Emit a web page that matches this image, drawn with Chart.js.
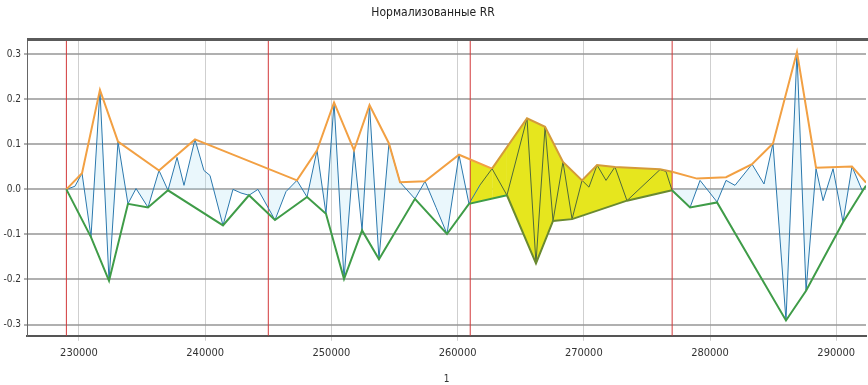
<!DOCTYPE html>
<html>
<head>
<meta charset="utf-8">
<script src="https://cdn.jsdelivr.net/npm/chart.js@4"></script>
<style>
  html, body { margin: 0; padding: 0; background: #fff; }
  #wrap { width: 868px; height: 385px; }
</style>
</head>
<body>
<div id="wrap"><canvas id="rrChart" width="868" height="385"></canvas></div>
<script>
// signal (blue)
const signalX = [229000, 229680, 230240, 230950, 231660, 232380, 233090, 233880, 234520, 235470,
  236340, 237050, 237770, 238320, 239190, 239900, 240380, 241410, 242200, 242840,
  243470, 244180, 245530, 246400, 247270, 248070, 248860, 249570, 250210, 251000,
  251790, 252430, 253020, 253770, 254560, 255440, 256620, 257420, 258290, 259160,
  260110, 260900, 261780, 262730, 263910, 265500, 266210, 266930, 267560, 268350,
  269070, 269860, 270410, 271050, 271760, 272470, 273420, 276040, 276510, 276990,
  278420, 279210, 280560, 281270, 281980, 283330, 284280, 284990, 286020, 286890,
  287610, 288400, 288960, 289750, 290540, 291250, 292050, 292520];
const signalY = [0.000, 0.007, 0.036, -0.106, 0.221, -0.203, 0.106, -0.032, 0.002, -0.040,
  0.042, -0.002, 0.071, 0.009, 0.111, 0.042, 0.031, -0.080, 0.000, -0.008,
  -0.013, 0.000, -0.068, -0.005, 0.020, -0.017, 0.087, -0.054, 0.193, -0.199,
  0.087, -0.091, 0.187, -0.155, 0.102, 0.016, -0.021, 0.018, -0.040, -0.099,
  0.077, -0.032, 0.010, 0.046, -0.013, 0.158, -0.164, 0.139, -0.070, 0.061,
  -0.066, 0.020, 0.005, 0.054, 0.020, 0.050, -0.025, 0.044, 0.040, -0.002,
  -0.040, 0.020, -0.028, 0.020, 0.009, 0.056, 0.012, 0.102, -0.291, 0.305,
  -0.225, 0.046, -0.025, 0.046, -0.073, 0.051, -0.002, 0.013];

// upper envelope (orange)
const upperX = [229000, 230240, 231660, 233090, 236340, 239190, 247270, 248860, 250210, 251790,
  253020, 254560, 255440, 257420, 260110, 262730, 265500, 266930, 268350, 269860,
  271050, 272470, 276040, 276990, 278970, 281270, 283330, 284990, 286890, 288400,
  291250, 292360];
const upperY = [0.000, 0.036, 0.221, 0.106, 0.042, 0.111, 0.020, 0.087, 0.193, 0.087,
  0.187, 0.102, 0.016, 0.018, 0.077, 0.046, 0.158, 0.139, 0.061, 0.020,
  0.054, 0.050, 0.045, 0.039, 0.024, 0.027, 0.056, 0.102, 0.305, 0.048,
  0.051, 0.015];

// lower envelope (green)
const lowerX = [229000, 230950, 232380, 233880, 235470, 237050, 241410, 243470, 245530, 248070,
  249570, 251000, 252430, 253770, 256620, 259160, 260900, 263910, 266210, 267560,
  269070, 273420, 276990, 278420, 280560, 286020, 287610, 290540, 292120, 292360];
const lowerY = [0.000, -0.106, -0.203, -0.032, -0.040, -0.002, -0.080, -0.013, -0.068, -0.017,
  -0.054, -0.199, -0.091, -0.155, -0.021, -0.099, -0.032, -0.013, -0.164, -0.070,
  -0.066, -0.025, -0.002, -0.040, -0.029, -0.291, -0.225, -0.073, -0.002, 0.008];

// red segment borders and highlighted segment
const segmentBorders = [229000, 245000, 261000, 277000];
const shadeFrom = 261000;
const shadeTo = 277000;

const xTicks = [230000, 240000, 250000, 260000, 270000, 280000, 290000];
const yTicks = [-0.3, -0.2, -0.1, 0.0, 0.1, 0.2, 0.3];
const xMin = 225880, xMax = 292360;
const yMin = -0.325, yMax = 0.333;

const narrow = "'Liberation Sans Narrow', 'DejaVu Sans Condensed', sans-serif";
const tickFont = { family: narrow, size: 11 };

function toPoints(xs, ys) {
  return xs.map((x, i) => ({ x: x, y: ys[i] }));
}

function inShade(seg) {
  return seg.p0.parsed.x >= shadeFrom - 1 && seg.p1.parsed.x <= shadeTo + 1;
}

// yellow only between shadeFrom and shadeTo
function shadeGradient(context) {
  const chart = context.chart;
  const area = chart.chartArea;
  if (!area) return 'rgba(0,0,0,0)';
  const sx = chart.scales.x;
  const w = area.right - area.left;
  const a = Math.min(Math.max((sx.getPixelForValue(shadeFrom) - area.left) / w, 0), 1);
  const b = Math.min(Math.max((sx.getPixelForValue(shadeTo) - area.left) / w, 0), 1);
  const g = chart.ctx.createLinearGradient(area.left, 0, area.right, 0);
  const none = 'rgba(230,230,30,0)';
  const yel = 'rgba(230,230,30,1)';
  g.addColorStop(0, none);
  g.addColorStop(a, none);
  g.addColorStop(a, yel);
  g.addColorStop(b, yel);
  g.addColorStop(b, none);
  g.addColorStop(1, none);
  return g;
}

const datasets = [
  {
    label: 'signal',
    data: toPoints(signalX, signalY),
    borderColor: '#2b78ad',
    borderWidth: 1,
    backgroundColor: 'rgba(170,222,242,0.25)',
    fill: 'origin',
    pointRadius: 0,
    tension: 0,
    segment: { borderColor: s => inShade(s) ? '#4f6a3a' : undefined },
    order: 3
  },
  {
    label: 'upper',
    data: toPoints(upperX, upperY),
    borderColor: '#f2a043',
    borderWidth: 2,
    backgroundColor: shadeGradient,
    fill: { target: 2 },
    pointRadius: 0,
    tension: 0,
    segment: { borderColor: s => inShade(s) ? '#d49a3a' : undefined },
    order: 2
  },
  {
    label: 'lower',
    data: toPoints(lowerX, lowerY),
    borderColor: '#3f9c48',
    borderWidth: 2,
    fill: false,
    pointRadius: 0,
    tension: 0,
    segment: { borderColor: s => inShade(s) ? '#6a8a30' : undefined },
    order: 1
  }
];

segmentBorders.forEach(v => {
  datasets.push({
    label: 'border',
    data: [{ x: v, y: yMin }, { x: v, y: yMax }],
    borderColor: '#d2383a',
    borderWidth: 1,
    fill: false,
    pointRadius: 0,
    order: 10
  });
});

// dark frame line along the top of the plot
const topFrame = {
  id: 'topFrame',
  afterDraw(chart) {
    const { ctx, chartArea } = chart;
    ctx.save();
    ctx.strokeStyle = '#5a5a5a';
    ctx.lineWidth = 3;
    ctx.beginPath();
    ctx.moveTo(chartArea.left, chartArea.top);
    ctx.lineTo(chartArea.right + 2, chartArea.top);
    ctx.stroke();
    ctx.restore();
  }
};

const ctx = document.getElementById('rrChart').getContext('2d');
const myChart = new Chart(ctx, {
  type: 'line',
  data: { datasets: datasets },
  plugins: [topFrame],
  options: {
    responsive: false,
    animation: false,
    layout: { padding: { left: 0, right: 2, top: 0, bottom: 0 } },
    scales: {
      x: {
        type: 'linear',
        min: xMin,
        max: xMax,
        afterBuildTicks: scale => { scale.ticks = xTicks.map(v => ({ value: v })); },
        ticks: {
          callback: v => String(v),
          font: tickFont,
          color: '#333',
          padding: 6,
          maxRotation: 0
        },
        grid: { color: 'rgba(195,195,195,0.8)', lineWidth: 1, tickLength: 5 },
        border: { color: '#555', width: 2 },
        title: {
          display: true,
          text: '1',
          font: { family: narrow, size: 10 },
          color: '#333',
          padding: { top: 7, bottom: 0 }
        }
      },
      y: {
        min: yMin,
        max: yMax,
        afterBuildTicks: scale => { scale.ticks = yTicks.map(v => ({ value: v })); },
        afterFit: scale => { scale.width = 27; },
        ticks: {
          callback: v => v.toFixed(1),
          font: { family: narrow, size: 10 },
          color: '#333',
          padding: 3
        },
        grid: { color: 'rgba(150,150,150,0.75)', lineWidth: 2, tickLength: 3 },
        border: { color: '#666', width: 1 }
      }
    },
    plugins: {
      legend: { display: false },
      tooltip: { enabled: false },
      filler: { drawTime: 'beforeDatasetsDraw' },
      title: {
        display: true,
        text: 'Нормализованные RR',
        font: { family: narrow, size: 12, weight: 'normal', lineHeight: 1.2 },
        color: '#222',
        padding: { top: 6, bottom: 19 }
      }
    }
  }
});
</script>
</body>
</html>
